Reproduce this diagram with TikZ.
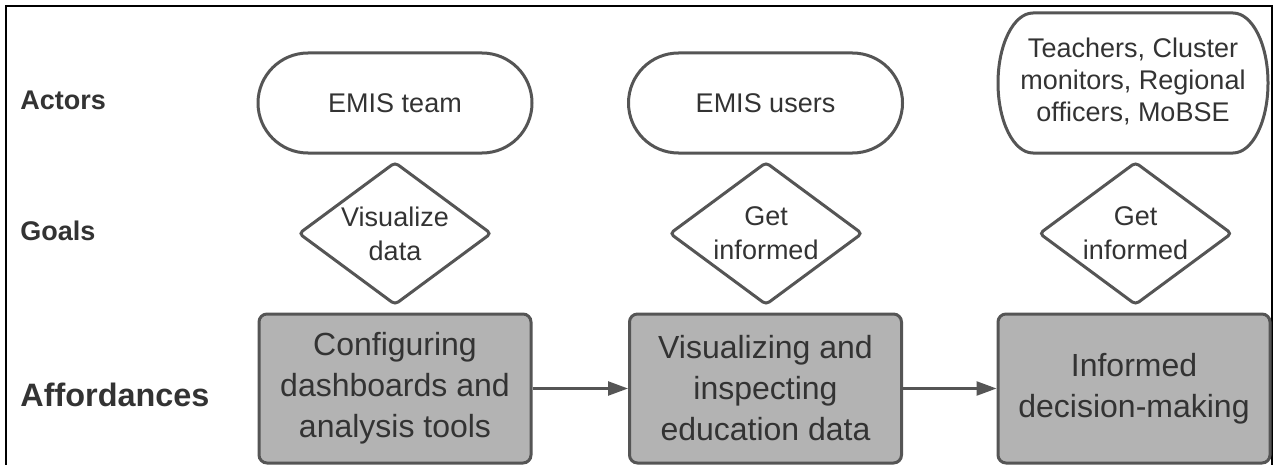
\documentclass[tikz,border=0pt]{standalone}
\usepackage{fontspec}
\setmainfont{Liberation Sans}
\usetikzlibrary{positioning}
\usetikzlibrary{shapes.geometric}
\usetikzlibrary{arrows.meta}
\definecolor{edgegray}{HTML}{555555}
\definecolor{boxgray}{HTML}{B3B3B3}
\definecolor{txtgray}{HTML}{333333}

\begin{document}
\begin{tikzpicture}[x=0.5pt,y=-0.5pt,
 rowlabel/.style={anchor=west,inner sep=0pt,text=txtgray,font=\bfseries\fontsize{13.5}{16}\selectfont},
 actortext/.style={text=txtgray,align=center,font=\fontsize{13.5}{16}\selectfont},
 actor/.style={actortext,draw=edgegray,line width=1.5pt,rounded corners=25pt,minimum width=137pt,minimum height=50pt},
 goal/.style={diamond,aspect=1.35,draw=edgegray,line width=1.5pt,rounded corners=2pt,inner sep=0pt,minimum width=96.5pt,minimum height=71.5pt,text=txtgray,align=center,font=\fontsize{13.5}{17}\selectfont},
 affordance/.style={draw=edgegray,fill=boxgray,line width=1.5pt,rounded corners=4pt,minimum width=136pt,minimum height=74.5pt,text=txtgray,align=center,font=\fontsize{16}{20.5}\selectfont},
 flow/.style={draw=edgegray,line width=1.2pt,-{Triangle[length=10pt,width=7pt]}}]
 \useasboundingbox (0,0) rectangle (1278,465);
 % frame, open at the bottom
 \draw [line width=1pt,black](6,465)--(6,6)--(1272,6)--(1272,465);
 % row labels
 \node [rowlabel] (actors) at (20,100) {Actors};
 \node [rowlabel] (goals) at (20,231) {Goals};
 \node [rowlabel,font=\bfseries\fontsize{16.2}{19}\selectfont] (affordances) at (20,395) {Affordances};
 % actors
 \node [actor] (actorA) at (395,103) {EMIS team};
 \node [actor] (actorB) at (765.5,103) {EMIS users};
 \node [actortext] (actorC) at (1133,81) {Teachers, Cluster\\monitors, Regional\\officers, MoBSE};
 \draw [draw=edgegray,line width=1.5pt]
  ([shift={(-50pt,35pt)}]1133,83)--([shift={(50pt,35pt)}]1133,83)
  arc[start angle=90,end angle=-90,x radius=17.5pt,y radius=35pt]
  --([shift={(-50pt,-35pt)}]1133,83)
  arc[start angle=270,end angle=90,x radius=17.5pt,y radius=35pt]--cycle;
 % goals
 \node [goal] (goalA) at (395,233.5) {Visualize\\data};
 \node [goal] (goalB) at (766,233.5) {Get\\informed};
 \node [goal] (goalC) at (1135.5,233.5) {Get\\informed};
 % affordances
 \node [affordance] (affA) at (395,388.5) {Configuring\\dashboards and\\analysis tools};
 \node [affordance] (affB) at (765.5,388.5) {Visualizing and\\inspecting\\education data};
 \node [affordance] (affC) at (1134,388.5) {Informed\\decision-making};
 \draw [flow] (affA) -- (affB);
 \draw [flow] (affB) -- (affC);
\end{tikzpicture}
\end{document}
